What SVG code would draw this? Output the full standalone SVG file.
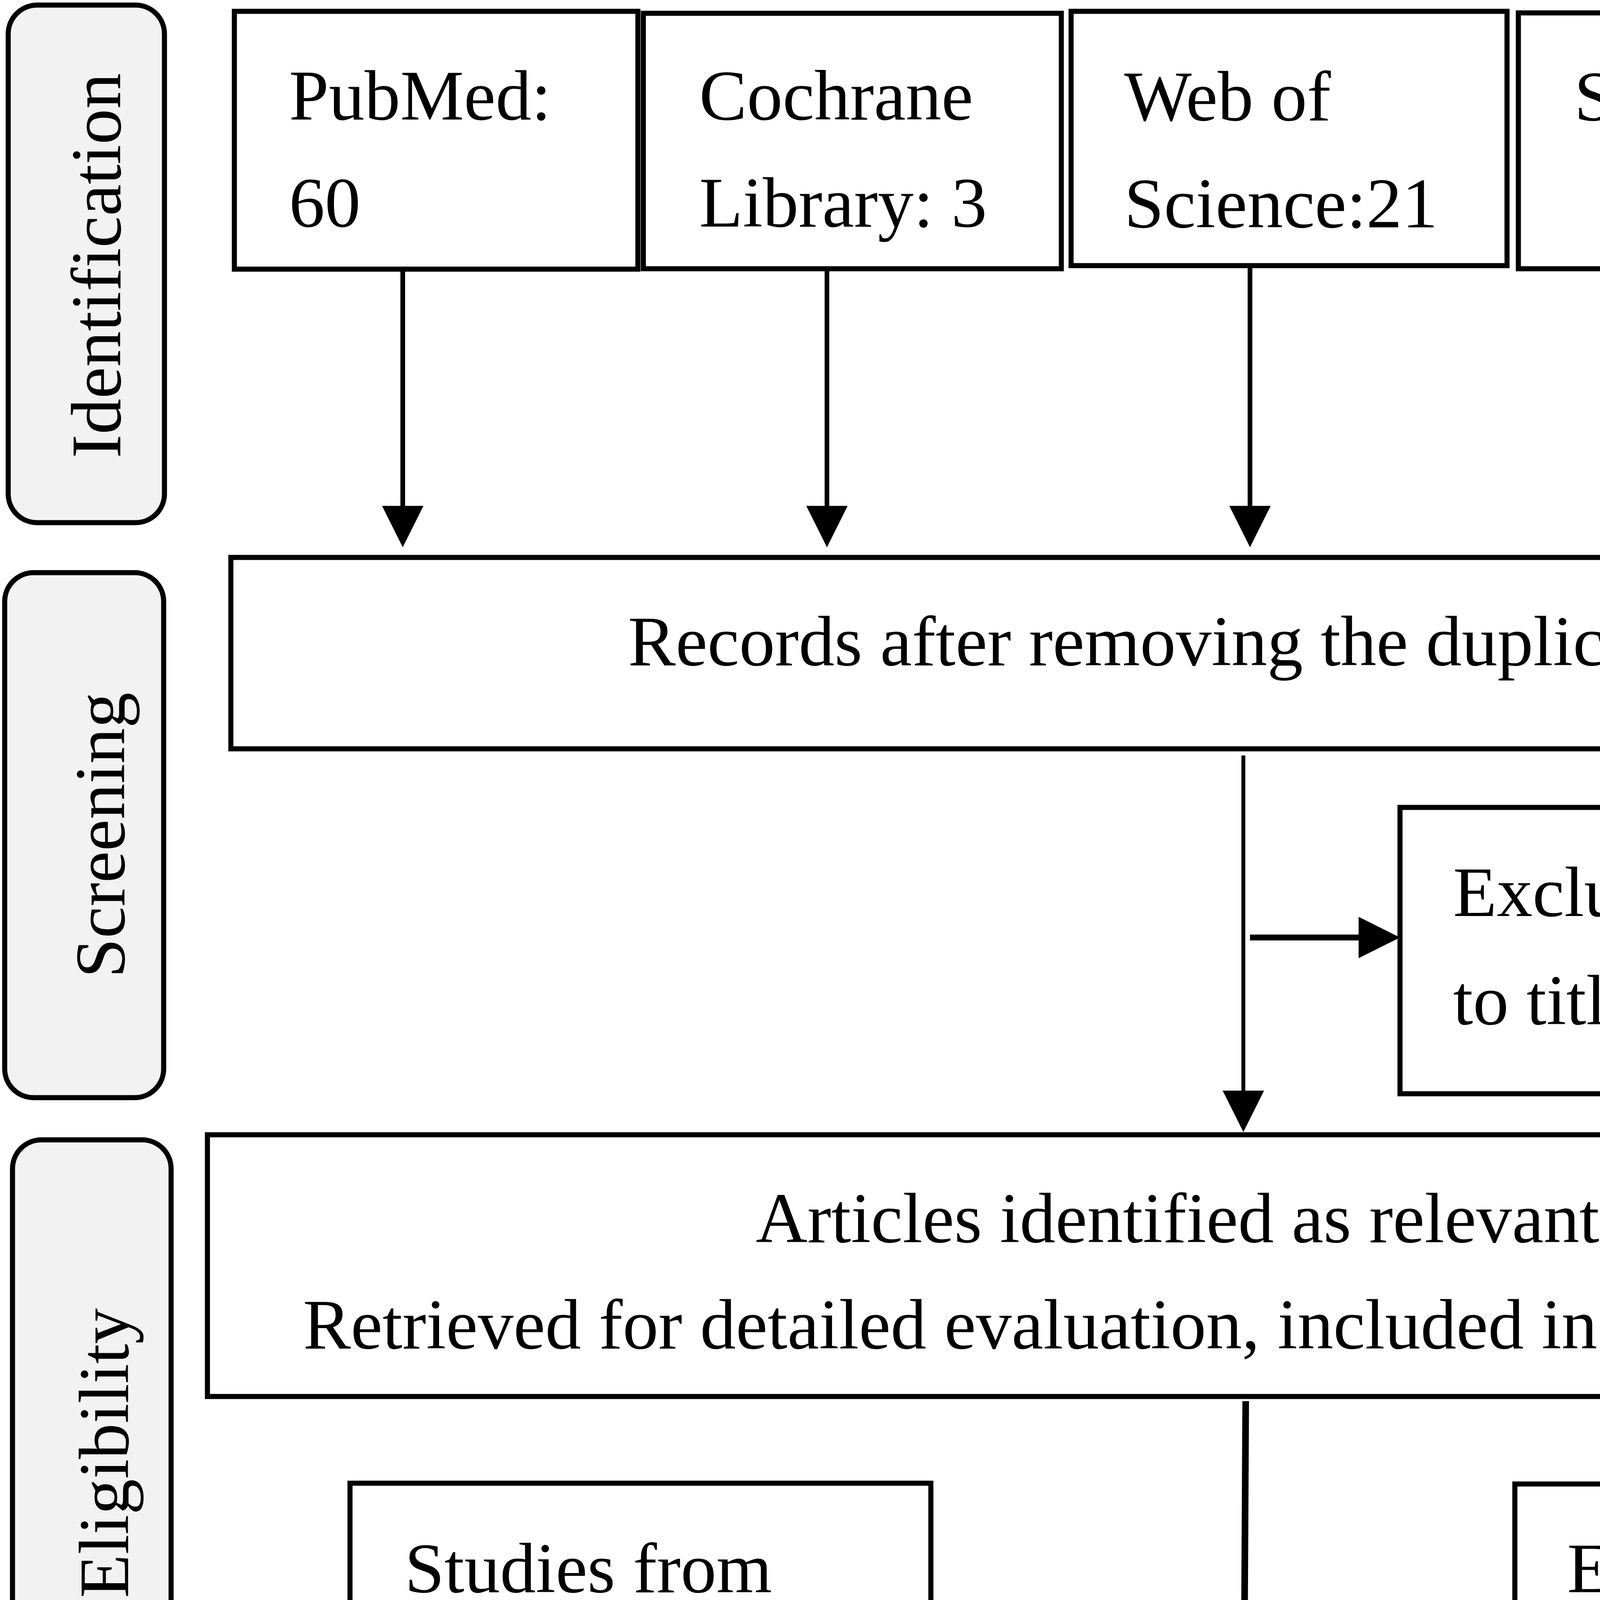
<svg xmlns="http://www.w3.org/2000/svg" width="5904" height="6975" viewBox="0 0 5904 6975">
<style>
.bg{fill:#ffffff}
.box{fill:#ffffff;stroke:#000;stroke-width:13}
.side{fill:#f2f2f2;stroke:#000;stroke-width:13}
.t{font-family:"Liberation Serif","Times New Roman",serif;font-size:183px;fill:#000}
.c{text-anchor:middle}
.v{fill:none;stroke:#000;stroke-width:12}
.thin{fill:none;stroke:#000;stroke-width:10}
.thick{fill:none;stroke:#000;stroke-width:17}
.h{fill:none;stroke:#000;stroke-width:15}
</style>
<defs>
<marker id="ah" markerUnits="userSpaceOnUse" markerWidth="106" markerHeight="106" refX="0" refY="53" orient="auto">
<path d="M0,0 L106,53 L0,106 z" fill="#000"/>
</marker>
</defs>
<rect class="bg" x="0" y="0" width="5904" height="6975"/>

<g id="stage-identification">
<rect class="side" x="21" y="13" width="400" height="1325" rx="74" ry="74"/>
<text class="t c" transform="translate(308,680) rotate(-90)">Identification</text>
</g>
<g id="stage-screening">
<rect class="side" x="12" y="1466" width="407" height="1344" rx="74" ry="74"/>
<text class="t c" transform="translate(318,2138) rotate(-90)">Screening</text>
</g>
<g id="stage-eligibility">
<rect class="side" x="32" y="2918" width="406" height="1607" rx="74" ry="74"/>
<text class="t c" transform="translate(328,3720) rotate(-90)">Eligibility</text>
</g>
<g id="stage-included">
<rect class="side" x="32" y="4605" width="407" height="2330" rx="74" ry="74"/>
<text class="t c" transform="translate(328,5770) rotate(-90)">Included</text>
</g>

<g id="pubmed">
<rect class="box" x="600" y="29" width="1033" height="660"/>
<text class="t" x="740" y="306">PubMed:</text>
<text class="t" x="740" y="580">60</text>
</g>
<g id="cochrane">
<rect class="box" x="1647" y="34" width="1070" height="654"/>
<text class="t" x="1790" y="306">Cochrane</text>
<text class="t" x="1790" y="580">Library: 3</text>
</g>
<g id="wos">
<rect class="box" x="2742" y="29" width="1116" height="651"/>
<text class="t" x="2878" y="308">Web of</text>
<text class="t" x="2878" y="582">Science:21</text>
</g>
<g id="sciencedirect">
<rect class="box" x="3887" y="33" width="1943" height="655"/>
<text class="t" x="4030" y="308">ScienceDirect :2092</text>
</g>
<g id="records">
<rect class="box" x="591" y="1427" width="5279" height="490"/>
<text class="t c" x="3228" y="1703">Records after removing the duplicates: 2117</text>
</g>
<g id="excluded-abstracts">
<rect class="box" x="3584" y="2067" width="2289" height="733"/>
<text class="t" x="3720" y="2345">Excluded according</text>
<text class="t" x="3720" y="2622">to titles and abstracts: 1995</text>
</g>
<g id="articles">
<rect class="box" x="531" y="2905" width="5342" height="670"/>
<text class="t c" x="3200" y="3180">Articles identified as relevant: 122</text>
<text class="t c" x="3200" y="3452">Retrieved for detailed evaluation, included in qualitative synthesis</text>
</g>
<g id="citation">
<rect class="box" x="896" y="3797" width="1487" height="702"/>
<text class="t" x="1036" y="4076">Studies from</text>
<text class="t" x="1036" y="4346">the citation:0</text>
</g>
<g id="excluded-fulltext">
<rect class="box" x="3878" y="3799" width="1995" height="646"/>
<text class="t" x="4012" y="4076">Excluded according to</text>
<text class="t" x="4012" y="4346">the full text: 99</text>
</g>
<g id="studies-included">
<rect class="box" x="546" y="4781" width="5327" height="382"/>
<text class="t c" x="3205" y="5052">Studies included: 23</text>
</g>
<g id="msic">
<rect class="box" x="493" y="5481" width="5399" height="1482"/>
<text class="t c" x="3195" y="5755">Studies focused on the role of specific MSIC in VILI:</text>
<text class="t" x="2385" y="6028">• Piezo1 channel:6</text>
<text class="t" x="2385" y="6304">• Transient receptor potential channel:10</text>
<text class="t" x="2385" y="6577">• Potassium channel:3</text>
<text class="t" x="2385" y="6850">• Sodium channel:4</text>
</g>

<g id="connectors">
<line class="v" x1="1031" y1="689" x2="1031" y2="1295" marker-end="url(#ah)"/>
<line class="v" x1="2117" y1="688" x2="2117" y2="1295" marker-end="url(#ah)"/>
<line class="v" x1="3200" y1="680" x2="3200" y2="1295" marker-end="url(#ah)"/>
<line class="v" x1="4761" y1="688" x2="4761" y2="1295" marker-end="url(#ah)"/>
<line class="thin" x1="3183" y1="1934" x2="3183" y2="2792" marker-end="url(#ah)"/>
<line class="h" x1="3200" y1="2400" x2="3478" y2="2400" marker-end="url(#ah)"/>
<line class="thick" x1="3189" y1="3587" x2="3183" y2="4661" marker-end="url(#ah)"/>
<line class="h" x1="2398" y1="4150" x2="3082" y2="4150" marker-end="url(#ah)"/>
<line class="h" x1="3213" y1="4150" x2="3740" y2="4150" marker-end="url(#ah)"/>
<line class="v" x1="3172" y1="5163" x2="3172" y2="5349" marker-end="url(#ah)"/>
</g>
</svg>
